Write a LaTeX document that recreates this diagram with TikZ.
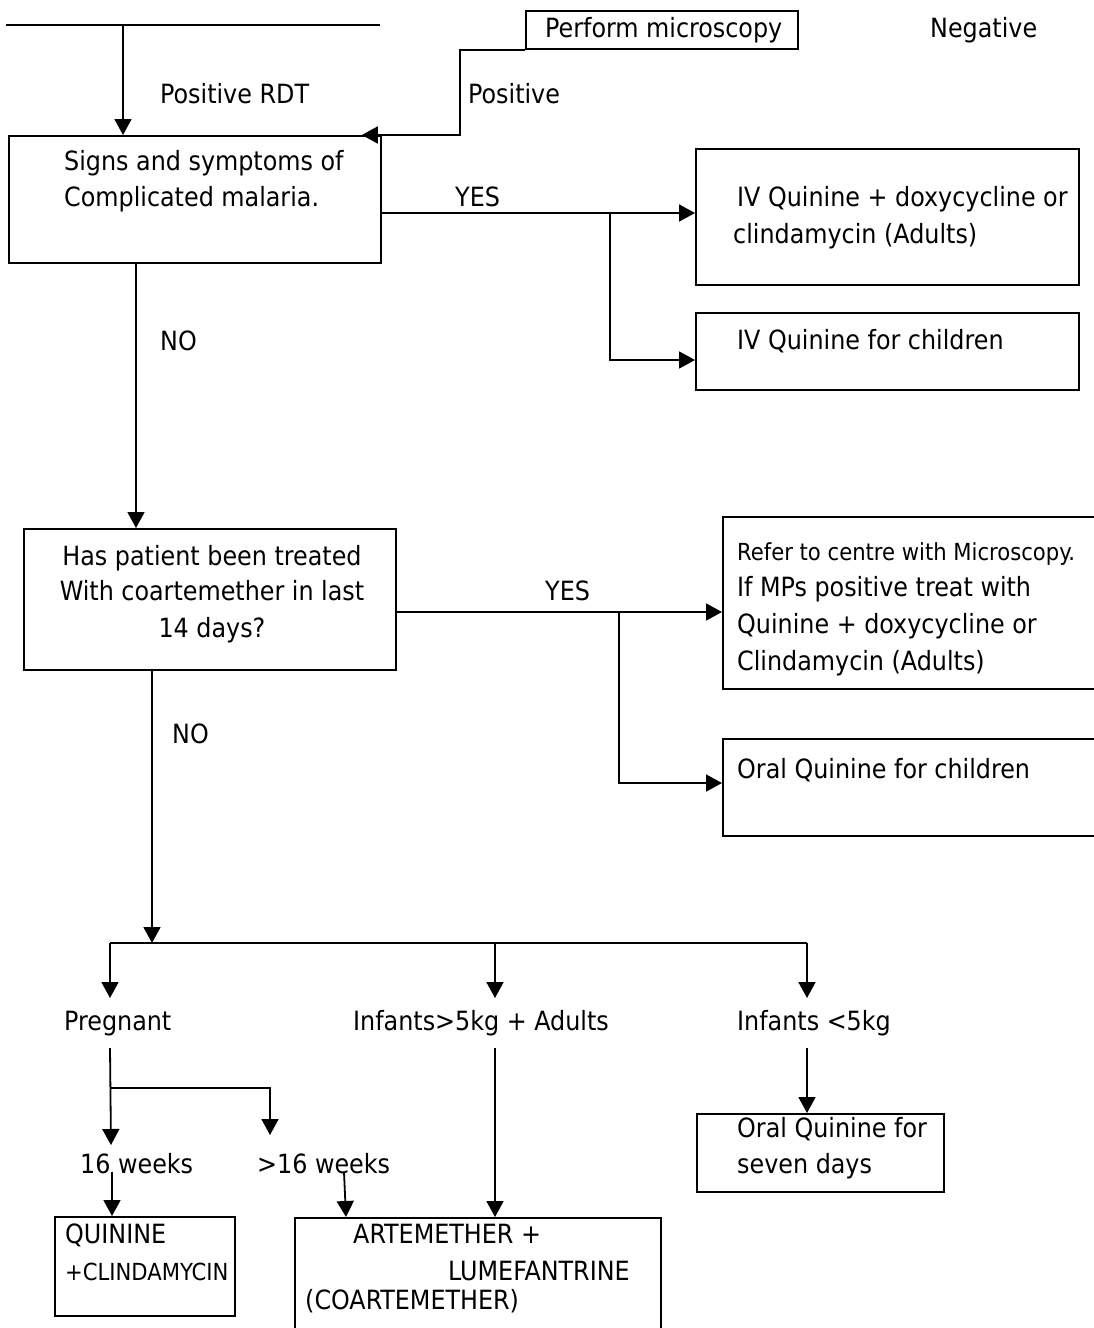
\documentclass[tikz,border=0pt]{standalone}
\usepackage{fontspec}
\setmainfont{DejaVu Sans Condensed}
\usetikzlibrary{arrows.meta}
\begin{document}
\begin{tikzpicture}[x=1pt,y=-1pt,
  box/.style={draw,line width=1.8pt,inner sep=0pt,anchor=north west},
  tx/.style={anchor=base west,inner sep=0pt,font=\fontsize{26.5}{37}\selectfont},
  txc/.style={tx,anchor=base},
  txs/.style={tx,font=\fontsize{23.5}{33}\selectfont},
  ln/.style={line width=1.8pt},
  arr/.style={ln,-{Triangle[length=16pt,width=17pt]}}]
\fill[white] (0,0) rectangle (1094,1328);
\useasboundingbox (0,0) rectangle (1094,1328);

% boxes
\node[box,minimum width=272,minimum height=38] (micro) at (525,10) {};
\node[box,minimum width=372,minimum height=127] (box1) at (8,135) {};
\node[box,minimum width=383,minimum height=136] (box2) at (695,148) {};
\node[box,minimum width=383,minimum height=77] (box3) at (695,312) {};
\node[box,minimum width=372,minimum height=141] (box4) at (23,528) {};
\node[box,minimum width=374,minimum height=172] (box5) at (722,516) {};
\node[box,minimum width=374,minimum height=97] (box6) at (722,738) {};
\node[box,minimum width=247,minimum height=78] (box7) at (696,1113) {};
\node[box,minimum width=180,minimum height=99] (box8) at (54,1216) {};
\node[box,minimum width=366,minimum height=125] (box9) at (294,1217) {};

% texts
\node[tx] (tpm) at (545,37) {Perform microscopy};
\node[tx] (tneg) at (930,37) {Negative};
\node[tx] (trdt) at (160,103) {Positive RDT};
\node[tx] (tpos) at (468,103) {Positive};
\node[tx] (t1a) at (64,170) {Signs and symptoms of};
\node[tx] (t1b) at (64,206) {Complicated malaria.};
\node[tx] (tyes1) at (455,206) {YES};
\node[tx] (t2a) at (737,206) {IV Quinine + doxycycline or};
\node[tx] (t2b) at (733,243) {clindamycin (Adults)};
\node[tx] (t3a) at (737,349) {IV Quinine for children};
\node[tx] (tno1) at (160,350) {NO};
\node[txc] (t4a) at (212,565) {Has patient been treated};
\node[txc] (t4b) at (212,600) {With coartemether in last};
\node[txc] (t4c) at (212,637) {14 days?};
\node[tx] (tyes2) at (545,600) {YES};
\node[txs] (t5a) at (737,560) {Refer to centre with Microscopy.};
\node[tx] (t5b) at (737,596) {If MPs positive treat with};
\node[tx] (t5c) at (737,633) {Quinine + doxycycline or};
\node[tx] (t5d) at (737,670) {Clindamycin (Adults)};
\node[tx] (t6a) at (737,778) {Oral Quinine for children};
\node[tx] (tno2) at (172,743) {NO};
\node[tx] (tpreg) at (64,1030) {Pregnant};
\node[tx] (tinf1) at (353,1030) {Infants>5kg + Adults};
\node[tx] (tinf2) at (737,1030) {Infants <5kg};
\node[tx] (tw1) at (80,1173) {16 weeks};
\node[tx] (tw2) at (257,1173) {>16 weeks};
\node[tx] (t7a) at (737,1137) {Oral Quinine for};
\node[tx] (t7b) at (737,1173) {seven days};
\node[tx] (t8a) at (65,1243) {QUININE};
\node[txs] (t8b) at (65,1280) {+CLINDAMYCIN};
\node[tx] (t9a) at (353,1243) {ARTEMETHER +};
\node[tx] (t9b) at (448,1280) {LUMEFANTRINE};
\node[tx] (t9c) at (305,1309) {(COARTEMETHER)};

% connectors
\coordinate (tl1) at (6,25);
\coordinate (tl2) at (380,25);
\draw[ln] (tl1) -- (tl2);
\coordinate (a1) at (123,25);
\draw[arr] (a1) -- (a1 |- box1.north);
\coordinate (m1) at (460,135);
\draw[arr] (micro.south west) -| (m1) -- ([xshift=-20pt]box1.north east);

\coordinate (j1) at (610,213);
\coordinate (j2) at (610,360);
\draw[arr] (j1 -| box1.east) -- (j1 -| box2.west);
\draw[arr] (j1) -- (j2) -- (j2 -| box3.west);

\coordinate (n1) at (136,400);
\draw[arr] (n1 |- box1.south) -- (n1 |- box4.north);

\coordinate (j3) at (619,612);
\coordinate (j4) at (619,783);
\draw[arr] (j3 -| box4.east) -- (j3 -| box5.west);
\draw[arr] (j3) -- (j4) -- (j4 -| box6.west);

\coordinate (h0) at (152,943);
\draw[arr] (h0 |- box4.south) -- (h0);
\coordinate (hL) at (110,943);
\coordinate (hM) at (495,943);
\coordinate (hR) at (807,943);
\draw[ln] (hL) -- (hR);
\coordinate (eL) at (110,998);
\coordinate (eM) at (495,998);
\coordinate (eR) at (807,998);
\draw[arr] (hL) -- (eL);
\draw[arr] (hM) -- (eM);
\draw[arr] (hR) -- (eR);

\coordinate (p1) at (110,1048);
\coordinate (p2) at (110,1088);
\coordinate (p3) at (270,1088);
\coordinate (p4) at (111,1145);
\coordinate (p5) at (270,1135);
\draw[arr] (p1) -- (p4);
\draw[arr] (p2) -- (p3) -- (p5);

\coordinate (q1) at (112,1172);
\draw[arr] (q1) -- (q1 |- box8.north);
\coordinate (q2) at (344,1172);
\coordinate (q3) at (346,1217);
\draw[arr] (q2) -- (q3);
\coordinate (r1) at (495,1048);
\draw[arr] (r1) -- (r1 |- box9.north);
\coordinate (s1) at (807,1048);
\draw[arr] (s1) -- (s1 |- box7.north);
\end{tikzpicture}
\end{document}
